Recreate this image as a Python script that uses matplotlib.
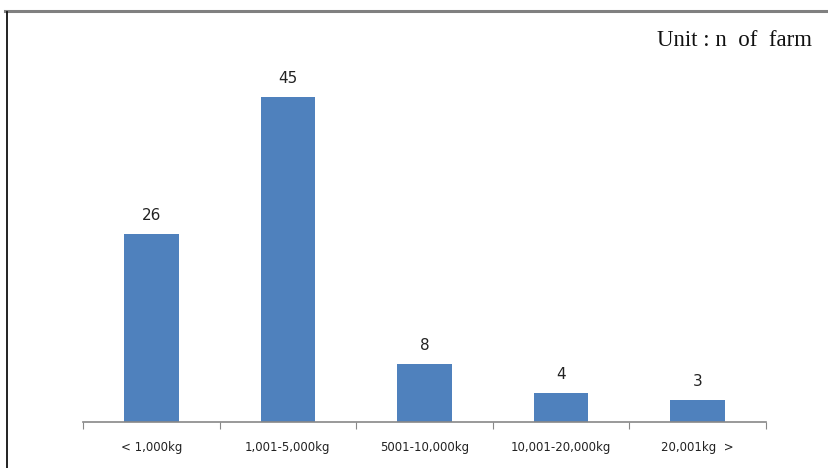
import numpy as np
import matplotlib.pyplot as plt
from matplotlib.lines import Line2D

categories = ["< 1,000kg", "1,001-5,000kg", "5001-10,000kg", "10,001-20,000kg", "20,001kg  >"]
farms = [26, 45, 8, 4, 3]

fig = plt.figure(figsize=(8.29, 4.68), dpi=100)
ax = fig.add_axes([0.1001, 0.0983, 0.8238, 0.7714])

x = np.arange(len(categories))
bars = ax.bar(x, farms, width=0.4, color="#4F81BD")
for xi, v in zip(x, farms):
    ax.text(xi, v + 1.6, str(v), ha="center", va="bottom", fontsize=11,
            family="DejaVu Sans", color="#222222")

ax.set_xlim(-0.5, len(categories) - 0.5)
ax.set_ylim(0, 50)

# tick marks at category boundaries, labels at centers
ax.set_xticks(np.arange(-0.5, len(categories), 1.0))
ax.set_xticklabels([])
ax.tick_params(axis="x", which="major", length=5, color="#888888", direction="out")
ax.set_xticks(x, minor=True)
ax.set_xticklabels(categories, minor=True, fontsize=8.5, color="#222222")
ax.tick_params(axis="x", which="minor", length=0, pad=13.5)

ax.set_yticks([])
for s in ["top", "right", "left"]:
    ax.spines[s].set_visible(False)
ax.spines["bottom"].set_color("#888888")
ax.spines["bottom"].set_linewidth(1.2)

fig.text(0.98, 0.913, "Unit : n  of  farm", ha="right", va="center",
         fontsize=16.5, family="Liberation Serif", color="#111111")

# frame lines
fig.add_artist(Line2D([0.006, 1.0], [0.977, 0.977], color="#808080", linewidth=2.2))
fig.add_artist(Line2D([0.0085, 0.0085], [0.0, 0.975], color="#111111", linewidth=1.3))

fig.savefig("out.png", dpi=100)
